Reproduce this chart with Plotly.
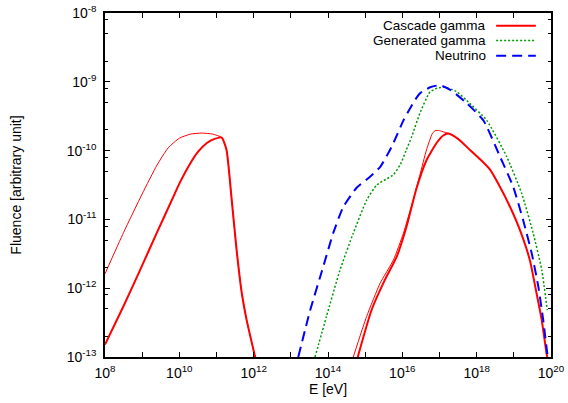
import numpy as np
import plotly.graph_objects as go

# ---- data (log10 E [eV], log10 fluence) ----
casc_low_thin_logE = [8.0, 8.5, 9.0, 9.4, 9.7, 10.0, 10.3, 10.6, 10.9, 11.14,
                      11.27, 11.41, 11.54, 11.68, 11.81, 12.04]
casc_low_thin_logF = [-11.79, -11.19, -10.63, -10.21, -9.96, -9.82, -9.76, -9.745, -9.76, -9.81,
                      -9.99, -10.72, -11.44, -12.07, -12.46, -13.0]

casc_low_thick_logE = [8.0, 8.49, 8.94, 9.39, 9.84, 10.0, 10.29, 10.5, 10.74, 10.95, 11.14,
                       11.27, 11.41, 11.54, 11.68, 11.81, 12.04]
casc_low_thick_logF = [-12.82, -12.27, -11.74, -11.20, -10.67, -10.48, -10.19, -10.02, -9.89, -9.83, -9.81,
                       -9.99, -10.72, -11.44, -12.07, -12.46, -13.0]

casc_high_thin_logE = [14.68, 15.04, 15.40, 15.76, 16.03, 16.29, 16.47, 16.65, 16.80, 16.88,
                       17.0, 17.12, 17.24]
casc_high_thin_logF = [-13.0, -12.41, -11.93, -11.59, -11.20, -10.72, -10.36, -9.99, -9.76, -9.71,
                       -9.71, -9.73, -9.75]

casc_high_thick_logE = [14.80, 15.17, 15.53, 15.85, 16.11, 16.38, 16.65, 16.92, 17.10, 17.24,
                        17.50, 17.82, 18.10, 18.35, 18.60, 18.90, 19.16, 19.43, 19.61, 19.75,
                        19.88, 19.90]
casc_high_thick_logF = [-13.0, -12.32, -11.88, -11.54, -11.11, -10.55, -10.14, -9.89, -9.78, -9.75,
                        -9.83, -9.99, -10.13, -10.27, -10.50, -10.82, -11.15, -11.59, -12.07, -12.46,
                        -12.95, -13.0]

gen_logE = [13.65, 13.96, 14.32, 14.68, 15.04, 15.31, 15.55, 15.76, 15.95, 16.10, 16.25,
            16.47, 16.74, 16.95, 17.15, 17.45, 17.73, 18.27, 18.81, 19.21, 19.52, 19.75, 19.90]
gen_logF = [-13.0, -12.41, -11.74, -11.20, -10.72, -10.50, -10.42, -10.35, -10.20, -10.00, -9.80,
            -9.46, -9.15, -9.09, -9.08, -9.14, -9.27, -9.56, -10.09, -10.62, -11.20, -11.73, -12.32]

nu_logE = [13.20, 13.52, 13.87, 14.14, 14.41, 14.77, 15.13, 15.40, 15.62, 15.76, 16.03, 16.30,
           16.47, 16.75, 17.01, 17.30, 17.73, 18.18, 18.63, 18.98, 19.25, 19.48, 19.66, 19.79,
           19.90, 19.91]
nu_logF = [-13.0, -12.32, -11.69, -11.20, -10.82, -10.54, -10.38, -10.24, -10.04, -9.89, -9.56, -9.30,
           -9.17, -9.08, -9.05, -9.12, -9.31, -9.56, -10.09, -10.52, -11.01, -11.49, -11.98, -12.46,
           -12.95, -13.0]

legend_names = ["Cascade gamma", "Generated gamma", "Neutrino"]
x_decades = list(range(8, 21))
y_decades = list(range(-13, -7))

RED = "#ff0000"
GREEN = "#009a00"
BLUE = "#0000ff"
FONT = "Liberation Sans, Arial, sans-serif"


def pw(a):
    return 10.0 ** np.asarray(a, dtype=float)


fig = go.Figure()


def add(lx, ly, color, width, dash="solid"):
    fig.add_trace(go.Scatter(x=pw(lx), y=pw(ly), mode="lines",
                             line=dict(color=color, width=width, dash=dash, shape="spline", smoothing=0.5),
                             showlegend=False, hoverinfo="skip"))


add(casc_low_thin_logE, casc_low_thin_logF, RED, 1.0)
add(casc_low_thick_logE, casc_low_thick_logF, RED, 2.0)
add(casc_high_thin_logE, casc_high_thin_logF, RED, 1.0)
add(casc_high_thick_logE, casc_high_thick_logF, RED, 2.0)
add(gen_logE, gen_logF, GREEN, 1.5, "2px,2px")
add(nu_logE, nu_logF, BLUE, 2.0, "10px,6px")

# x ticks: every decade, labels on even powers
xt_vals = [10.0 ** d for d in x_decades]
xt_text = [("10<sup>%d</sup>" % d) if d % 2 == 0 else "" for d in x_decades]
yt_vals = [10.0 ** d for d in y_decades]
yt_text = ["10<sup>%d</sup>" % d for d in y_decades]
y_minor = [m * 10.0 ** d for d in y_decades[:-1] for m in (2, 5, 8)]

axis_common = dict(type="log", showgrid=False, zeroline=False, showline=True, automargin=False,
                   linecolor="black", linewidth=1.5, mirror="ticks", ticks="inside",
                   tickcolor="black", tickwidth=1, ticklen=5, ticklabeloverflow="allow",
                   tickfont=dict(family=FONT, size=14, color="black"))

fig.update_layout(
    width=568, height=403,
    margin=dict(l=105, r=17, t=13, b=46, autoexpand=False),
    paper_bgcolor="white", plot_bgcolor="white",
    font=dict(family=FONT, size=14, color="black"),
    xaxis=dict(range=[8, 20], tickmode="array", tickvals=xt_vals, ticktext=xt_text,
               title=dict(text="E [eV]", font=dict(family=FONT, size=14), standoff=4),
               ticklabelstandoff=2, **axis_common),
    yaxis=dict(range=[-13, -8], tickmode="array", tickvals=yt_vals, ticktext=yt_text,
               minor=dict(tickmode="array", tickvals=y_minor, ticks="inside", ticklen=3,
                          tickcolor="black", tickwidth=1),
               title=dict(text="Fluence [arbitrary unit]", font=dict(family=FONT, size=14), standoff=42),
               ticklabelstandoff=4, **axis_common),
)

# legend (text right, sample line to the right, gnuplot style)
leg_styles = [(RED, 2.0, "solid"), (GREEN, 1.5, "2px,2px"), (BLUE, 2.0, "10px,6px")]
leg_y = [0.963, 0.920, 0.876]
for name, (c, w, d), yy in zip(legend_names, leg_styles, leg_y):
    fig.add_annotation(xref="paper", yref="paper", x=0.857, y=yy, text=name, showarrow=False,
                       xanchor="right", yanchor="middle", borderpad=0,
                       font=dict(family=FONT, size=13.5, color="black"))
    fig.add_shape(type="line", xref="paper", yref="paper", x0=0.877, x1=0.966, y0=yy, y1=yy,
                  line=dict(color=c, width=w, dash=d))

# remove the default page margin so the figure sits at the window origin
fig.write_html("out.html", config={"displayModeBar": False},
               post_script="document.body.style.margin='0';document.body.style.overflow='hidden';")
